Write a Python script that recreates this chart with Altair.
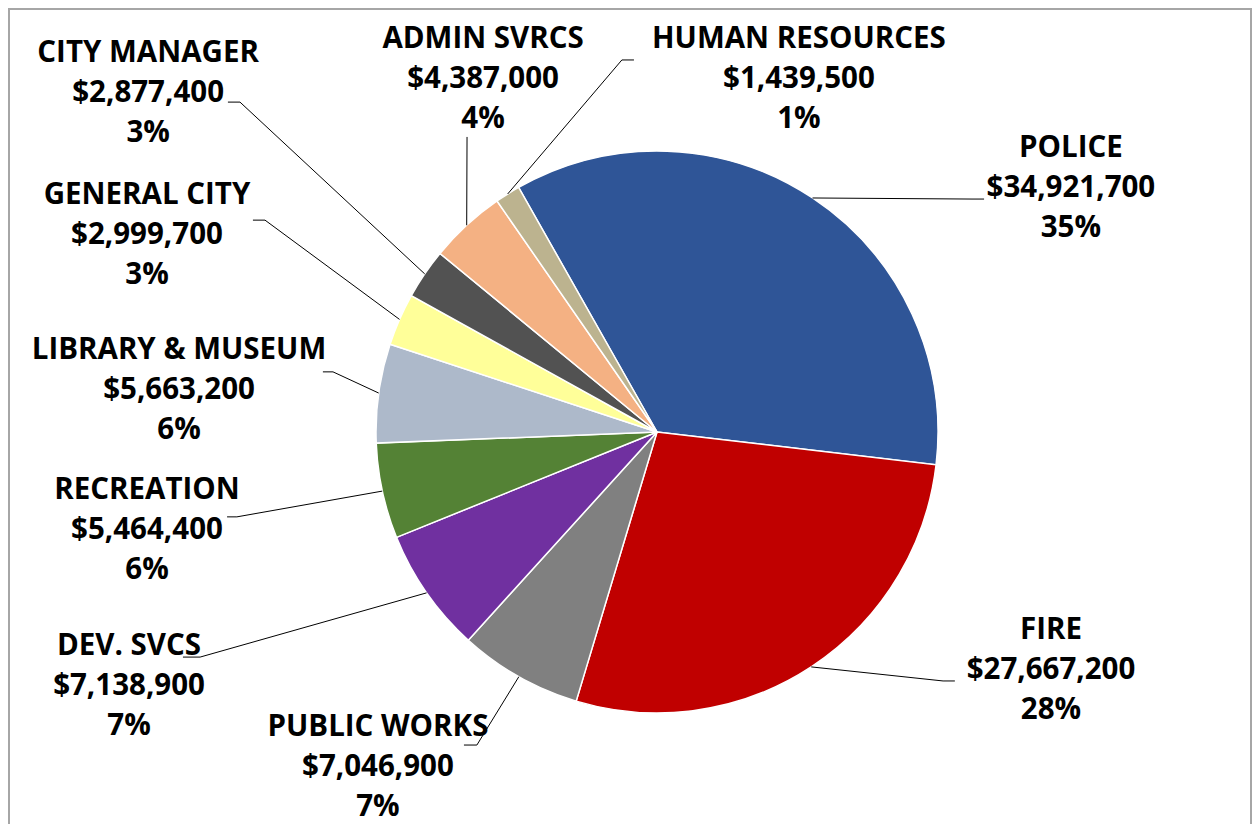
import math
import altair as alt
import pandas as pd

# ---------------- data ----------------
departments = ["POLICE", "FIRE", "PUBLIC WORKS", "DEV. SVCS", "RECREATION",
               "LIBRARY & MUSEUM", "GENERAL CITY", "CITY MANAGER",
               "ADMIN SVRCS", "HUMAN RESOURCES"]
budgets = [34921700, 27667200, 7046900, 7138900, 5464400,
           5663200, 2999700, 2877400, 4387000, 1439500]
pct_labels = ["35%", "28%", "7%", "7%", "6%", "6%", "3%", "3%", "4%", "1%"]

# ---------------- styles ----------------
colors = ["#2F5597", "#C00000", "#808080", "#7030A0", "#548235",
          "#ADB9CA", "#FFFF99", "#525252", "#F4B183", "#BCB38F"]

# ---------------- layout (pie-radius units, pie centre = 0,0, y up) ----------------
START_DEG = -29.5          # angle of the first slice edge, clockwise from 12 o'clock
R_PX = 281                 # pie radius in pixels
W, H = 1244, 816
CX, CY = 649, 424          # pie centre inside the plot area (pixels)
LINE_H = 40

label_pos = [(1.473, 0.868), (1.402, -0.847), (-0.993, -1.192), (-1.879, -0.904),
             (-1.815, -0.349), (-1.701, 0.149), (-1.815, 0.701), (-1.811, 1.206),
             (-0.619, 1.256), (0.505, 1.256)]
leader_bend = [(1.121, 0.829), (1.018, -0.886), (-0.641, -1.114), (-1.626, -0.801),
               (-1.495, -0.302), (-1.153, 0.214), (-1.395, 0.754), (-1.484, 1.174),
               (-0.676, 1.050), (-0.125, 1.324)]
leader_end = [(1.164, 0.829), (1.060, -0.886), (-0.687, -1.114), (-1.687, -0.801),
              (-1.530, -0.302), (-1.189, 0.214), (-1.438, 0.754), (-1.527, 1.174),
              (-0.676, 1.050), (-0.082, 1.324)]

# ---------------- derived tables ----------------
total = float(sum(budgets))
slices = pd.DataFrame({"dept": departments, "budget": budgets,
                       "idx": list(range(len(departments)))})

lead_rows, label_rows = [], []
cum = 0.0
for i, (d, b) in enumerate(zip(departments, budgets)):
    a0 = START_DEG + cum / total * 360
    cum += b
    a1 = START_DEG + cum / total * 360
    mid = math.radians((a0 + a1) / 2)
    edge = (math.sin(mid), math.cos(mid))
    for s, (px, py) in enumerate([edge, leader_bend[i], leader_end[i]]):
        lead_rows.append({"dept": d, "seq": s, "x": px, "y": py})
    label_rows.append({"dept": d, "x": label_pos[i][0], "y": label_pos[i][1],
                       "text": f"{d}\n${b:,}\n{pct_labels[i]}"})
leaders = pd.DataFrame(lead_rows)
labels = pd.DataFrame(label_rows)

x0 = -CX / R_PX
x1 = x0 + W / R_PX
y1 = CY / R_PX
y0 = y1 - H / R_PX
xs = alt.Scale(domain=[x0, x1], nice=False, zero=False)
ys = alt.Scale(domain=[y0, y1], nice=False, zero=False)

pie = alt.Chart(slices).mark_arc(outerRadius=R_PX, stroke="white", strokeWidth=1.5).encode(
    x=alt.X(datum=0, scale=xs, axis=None),
    y=alt.Y(datum=0, scale=ys, axis=None),
    theta=alt.Theta("budget:Q", stack=True,
                    scale=alt.Scale(range=[math.radians(START_DEG),
                                           math.radians(START_DEG) + 2 * math.pi])),
    order=alt.Order("idx:Q"),
    color=alt.Color("dept:N", scale=alt.Scale(domain=departments, range=colors), legend=None),
)

lines = alt.Chart(leaders).mark_line(color="black", strokeWidth=1).encode(
    x=alt.X("x:Q", scale=xs, axis=None),
    y=alt.Y("y:Q", scale=ys, axis=None),
    detail="dept:N",
    order="seq:Q",
)

text = alt.Chart(labels).mark_text(
    font="Open Sans", fontSize=29.5, fontWeight="bold", lineHeight=LINE_H,
    align="center", baseline="middle", lineBreak="\n", color="black", dy=-LINE_H,
).encode(
    x=alt.X("x:Q", scale=xs, axis=None),
    y=alt.Y("y:Q", scale=ys, axis=None),
    text="text:N",
)

frame_src = alt.Data(values=[{}])
frame_l = alt.Chart(frame_src).mark_rule(color="#A6A6A6", strokeWidth=2).encode(
    x=alt.value(1), y=alt.value(0), y2=alt.value(H))
frame_t = alt.Chart(frame_src).mark_rule(color="#A6A6A6", strokeWidth=2).encode(
    x=alt.value(0), x2=alt.value(W), y=alt.value(1))
frame_r = alt.Chart(frame_src).mark_rule(color="#A6A6A6", strokeWidth=2).encode(
    x=alt.value(W - 1), y=alt.value(0), y2=alt.value(H))

chart = alt.layer(pie, lines, text, frame_l, frame_t, frame_r).properties(
    width=W, height=H, padding=0,
    autosize=alt.AutoSizeParams(type="none"),
).configure_view(stroke=None)

chart.save("out.html", embed_options={"renderer": "svg", "actions": False})
